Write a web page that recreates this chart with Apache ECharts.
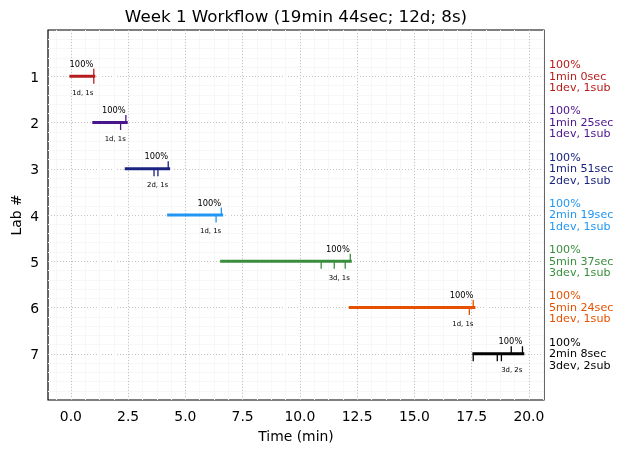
<!DOCTYPE html>
<html>
<head>
<meta charset="utf-8">
<style>html,body{margin:0;padding:0;background:#fff}#main{width:623px;height:453px}</style>
<script src="https://cdn.jsdelivr.net/npm/echarts@6/dist/echarts.min.js"></script>
</head>
<body>
<div id="main"></div>
<script>
// one row per lab
var labs = [1, 2, 3, 4, 5, 6, 7];
var starts = [0, 1.0, 2.417, 4.267, 6.583, 12.2, 17.6];
var ends = [1.0, 2.417, 4.267, 6.583, 12.2, 17.6, 19.733];
var subTimes = [[1.0], [2.4], [4.25], [6.57], [12.2], [17.57], [19.23, 19.72]];
var devTimes = [[1.0], [2.17], [3.63, 3.8], [6.34], [10.93, 11.5, 11.98], [17.4], [17.57, 18.62, 18.8]];
var countLabels = ['1d, 1s', '1d, 1s', '2d, 1s', '1d, 1s', '3d, 1s', '1d, 1s', '3d, 2s'];
var sideLabels = [
    '100%\n1min 0sec\n1dev, 1sub',
    '100%\n1min 25sec\n1dev, 1sub',
    '100%\n1min 51sec\n2dev, 1sub',
    '100%\n2min 19sec\n1dev, 1sub',
    '100%\n5min 37sec\n3dev, 1sub',
    '100%\n5min 24sec\n1dev, 1sub',
    '100%\n2min 8sec\n3dev, 2sub'
];
var labColors = ['#b71c1c', '#4a148c', '#1a237e', '#2196f3', '#388e3c', '#e65100', '#000000'];
var xTicks = [0, 2.5, 5, 7.5, 10, 12.5, 15, 17.5, 20];
var xMinorTicks = [];
for (var m = -1; m < 34; m++) xMinorTicks.push(m * 0.625);

var X_MIN = -1, X_MAX = 20.66;
var FONT = 'DejaVu Sans';

function renderLab(params, api) {
    var i = params.dataIndex;
    var c = labColors[i];
    var y = api.coord([0, labs[i]])[1];
    var kids = [];
    function tick(t, y2) {
        var x = api.coord([t, labs[i]])[0];
        kids.push({type: 'line', shape: {x1: x, y1: y, x2: x, y2: y2},
            style: {stroke: c, lineWidth: 1.3}});
    }
    subTimes[i].forEach(function (t) { tick(t, y - 7.5); });
    devTimes[i].forEach(function (t) { tick(t, y + 7.5); });
    var xEnd = api.coord([ends[i], labs[i]])[0];
    kids.push({type: 'text', x: xEnd - 0.5, y: y - 11.5,
        style: {text: '100%', fill: '#000', fontSize: 8.3, fontFamily: FONT, align: 'right', verticalAlign: 'middle'}});
    kids.push({type: 'text', x: xEnd - 0.5, y: y + 16.5,
        style: {text: countLabels[i], fill: '#000', fontSize: 6.9, fontFamily: FONT, align: 'right', verticalAlign: 'middle'}});
    kids.push({type: 'text', x: api.coord([X_MAX, labs[i]])[0] + 5, y: y + 0.5,
        style: {text: sideLabels[i], fill: c, fontSize: 11.1, lineHeight: 11.6, fontFamily: FONT, align: 'left', verticalAlign: 'middle'}});
    return {type: 'group', children: kids};
}

var series = [{
    type: 'custom',
    renderItem: renderLab,
    data: labs.map(function (l, i) { return [ends[i], l]; }),
    clip: false,
    silent: true,
    z: 3
}];
labs.forEach(function (l, i) {
    series.push({
        type: 'line',
        data: [[starts[i], l], [ends[i], l]],
        symbol: 'none',
        silent: true,
        lineStyle: {color: labColors[i], width: 3, cap: 'square'},
        z: 4
    });
});

var chart = echarts.init(document.getElementById('main'), null, {renderer: 'canvas'});
chart.setOption({
    animation: false,
    textStyle: {fontFamily: FONT},
    title: {
        text: 'Week 1 Workflow (19min 44sec; 12d; 8s)',
        left: 291, top: 4, textAlign: 'center',
        textStyle: {fontFamily: FONT, fontSize: 16.7, fontWeight: 'normal', color: '#000'}
    },
    grid: {left: 48, top: 30, width: 496, height: 370, outerBoundsMode: 'none', show: true, borderColor: '#000', borderWidth: 1.2, backgroundColor: 'transparent'},
    xAxis: [{
        type: 'value', min: X_MIN, max: X_MAX,
        name: 'Time (min)', nameLocation: 'middle', nameGap: 30,
        nameTextStyle: {fontFamily: FONT, fontSize: 13.9, color: '#000'},
        axisLine: {show: false},
        axisTick: {show: false, customValues: xTicks},
        axisLabel: {customValues: xTicks, color: '#000', fontFamily: FONT, fontSize: 13.9, margin: 10,
            formatter: function (v) { return v.toFixed(1); }},
        splitLine: {show: true, lineStyle: {color: '#c4c4c4', type: [1, 2], width: 1}},
        z: 2
    }, {
        // faint minor grid only
        type: 'value', min: X_MIN, max: X_MAX, position: 'bottom',
        axisLine: {show: false},
        axisTick: {show: false, customValues: xMinorTicks},
        axisLabel: {show: false},
        splitLine: {show: true, lineStyle: {color: '#f7f7f7', width: 1}},
        z: 1
    }],
    yAxis: {
        type: 'value', inverse: true, min: 0, max: 8, interval: 1,
        name: 'Lab #', nameLocation: 'middle', nameGap: 24, nameMoveOverlap: false,
        nameTextStyle: {fontFamily: FONT, fontSize: 13.9, color: '#000'},
        axisLine: {show: false},
        axisTick: {show: false},
        axisLabel: {color: '#000', fontFamily: FONT, fontSize: 13.9, margin: 9,
            rich: {v: {fontFamily: FONT, fontSize: 13.9, color: '#000', padding: [4, 0, 0, 0]}},
            formatter: function (v) { return v >= 1 && v <= 7 ? '{v|' + v + '}' : ''; }},
        splitLine: {show: true, showMinLine: false, showMaxLine: false, lineStyle: {color: '#c4c4c4', type: [1, 2], width: 1}},
        minorTick: {show: false, splitNumber: 5},
        minorSplitLine: {show: true, lineStyle: {color: '#f7f7f7', width: 1}}
    },
    series: series
});
</script>
</body>
</html>
